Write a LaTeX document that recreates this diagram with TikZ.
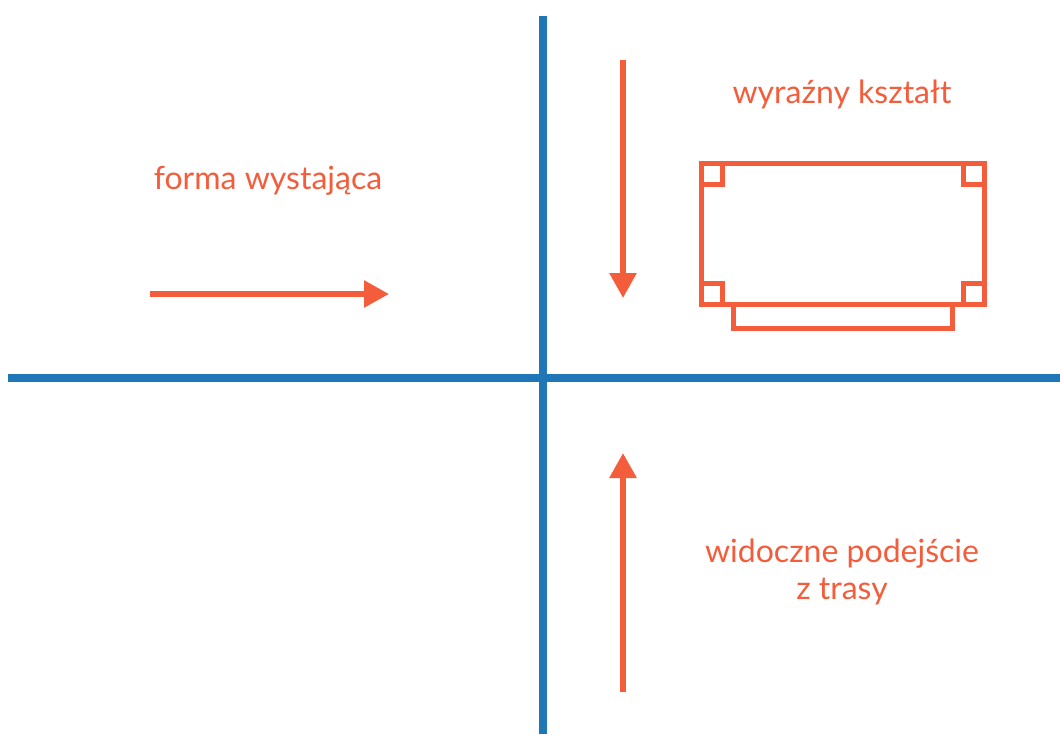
\documentclass[tikz,border=0pt]{standalone}
\usepackage{fontspec}
\setmainfont{Lato}
\usetikzlibrary{arrows.meta}
\definecolor{axisblue}{RGB}{31,119,184}
\definecolor{accent}{RGB}{243,93,59}
\tikzset{
  axis/.style={draw=axisblue, line width=8pt},
  pointer/.style={draw=accent, line width=5.7pt, -{Triangle[length=25pt,width=26pt]}},
  shapeline/.style={draw=accent, line width=5pt},
  label/.style={text=accent, font=\fontsize{32}{38}\selectfont, anchor=base, inner sep=0pt}
}
\begin{document}
\begin{tikzpicture}[x=1pt,y=-1pt]
\useasboundingbox (0,0) rectangle (1060,734);
% axes
\coordinate (vtop) at (543,16);
\coordinate (vbot) at (543,734);
\coordinate (hl) at (8,378);
\coordinate (hr) at (1060,378);
\draw[axis] (vtop) -- (vbot);
\draw[axis] (hl) -- (hr);
% arrows
\coordinate (a1s) at (150,294);
\coordinate (a1e) at (389,294);
\coordinate (a2s) at (623,60);
\coordinate (a2e) at (623,298);
\coordinate (a3s) at (623,692);
\coordinate (a3e) at (623,453);
\draw[pointer] (a1s) -- (a1e);
\draw[pointer] (a2s) -- (a2e);
\draw[pointer] (a3s) -- (a3e);
% building shape
\draw[shapeline] (701.5,163.5) rectangle (984.5,304.5);
\draw[shapeline] (701.5,163.5) rectangle (722.5,184.5);
\draw[shapeline] (963.5,163.5) rectangle (984.5,184.5);
\draw[shapeline] (701.5,283.5) rectangle (722.5,304.5);
\draw[shapeline] (963.5,283.5) rectangle (984.5,304.5);
\draw[shapeline] (733.5,304.5) rectangle (952.5,328.5);
% labels
\node[label] (t1) at (268,189) {forma wystająca};
\node[label] (t2) at (842,103) {wyraźny kształt};
\node[label] (t3) at (842,562) {widoczne podejście};
\node[label] (t4) at (842,599) {z trasy};
\end{tikzpicture}
\end{document}
